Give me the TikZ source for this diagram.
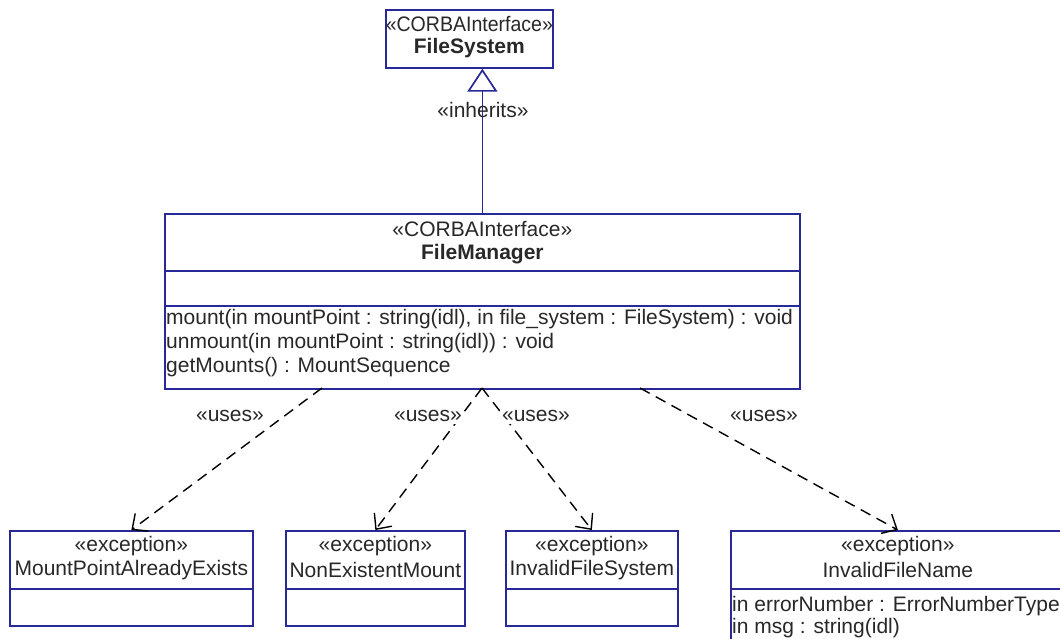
\documentclass[tikz,border=0pt]{standalone}
\usepackage{fontspec}
\setmainfont{Liberation Sans}
\usetikzlibrary{arrows.meta}
\definecolor{umlblue}{RGB}{40,40,150}
\definecolor{txt}{RGB}{40,40,40}
\begin{document}
\begin{tikzpicture}[x=1pt,y=-1pt,
  umlbox/.style={draw=umlblue, line width=1.7pt, fill=white, inner sep=0pt, anchor=north west},
  lbl/.style={font=\fontsize{21}{24}\selectfont, text=txt, inner sep=0pt},
  deplbl/.style={lbl, fill=white, inner sep=2pt},
  attr/.style={lbl, anchor=west},
  compline/.style={draw=umlblue, line width=1.7pt},
  inh/.style={draw=umlblue, line width=1.7pt, -{Triangle[open, length=23pt, width=30pt]}},
  dep/.style={draw=black, line width=1.4pt, dash pattern=on 11pt off 7pt,
    -{Straight Barb[length=12pt, width=22pt, line width=1.4pt]}}
]
\path[use as bounding box] (0,0) rectangle (1060,638);
\clip (0,0) rectangle (1060,638);
\fill[white] (0,0) rectangle (1060,638);

% interface FileSystem
\node[umlbox, minimum width=167pt, minimum height=58pt] (fs) at (385,9) {};
\node[lbl] (fsst) at (fs.center |- 0,24) {\scalebox{0.93}[1]{«CORBAInterface»}};
\node[lbl, font=\fontsize{21}{24}\selectfont\bfseries] (fsnm) at (fs.center |- 0,48) {FileSystem};

% interface FileManager
\node[umlbox, minimum width=635pt, minimum height=175pt] (fm) at (164,213) {};
\draw[compline] (164,271) -- (799,271);
\draw[compline] (164,306) -- (799,306);
\node[lbl] (fmst) at (fm.center |- 0,229) {«CORBAInterface»};
\node[lbl, font=\fontsize{21}{24}\selectfont\bfseries] (fmnm) at (fm.center |- 0,254) {FileManager};
\node[attr] (op1) at (166,319) {mount(in mountPoint : string(idl), in file\_system : FileSystem) : void};
\node[attr] (op2) at (166,343) {unmount(in mountPoint : string(idl)) : void};
\node[attr] (op3) at (166,367) {getMounts() : MountSequence};

% generalisation
\draw[inh] (fm.north) -- (fm.north |- fs.south);
\node[lbl] (inhl) at (483,110) {«inherits»};

% exceptions
\node[umlbox, minimum width=243pt, minimum height=95pt] (e1) at (9,530) {};
\node[umlbox, minimum width=179pt, minimum height=95pt] (e2) at (285,530) {};
\node[umlbox, minimum width=172pt, minimum height=95pt] (e3) at (505,530) {};
\node[umlbox, minimum width=334pt, minimum height=150pt] (e4) at (730,530) {};
\draw[compline] (e1.west |- 0,589) -- (e1.east |- 0,589);
\draw[compline] (e2.west |- 0,589) -- (e2.east |- 0,589);
\draw[compline] (e3.west |- 0,589) -- (e3.east |- 0,589);
\draw[compline] (e4.west |- 0,589) -- (e4.east |- 0,589);

\node[lbl] (e1st) at (e1.center |- 0,546) {«exception»};
\node[lbl] (e1nm) at (e1.center |- 0,570) {MountPointAlreadyExists};
\node[lbl] (e2st) at (e2.center |- 0,546) {«exception»};
\node[lbl] (e2nm) at (e2.center |- 0,570) {NonExistentMount};
\node[lbl] (e3st) at (e3.center |- 0,546) {«exception»};
\node[lbl] (e3nm) at (e3.center |- 0,570) {InvalidFileSystem};
\node[lbl] (e4st) at (e4.center |- 0,546) {«exception»};
\node[lbl] (e4nm) at (e4.center |- 0,570) {InvalidFileName};
\node[attr] (a1) at (732,606) {in errorNumber : ErrorNumberType};
\node[attr] (a2) at (732,628) {in msg : string(idl)};

% usage dependencies
\coordinate (u1) at (322,388);
\coordinate (u2) at (482,388);
\coordinate (u4) at (640,388);
\draw[dep] (u1) -- (e1.north);
\draw[dep] (u2) -- (e2.north);
\draw[dep] (u2) -- (e3.north);
\draw[dep] (u4) -- (e4.north);
\node[deplbl] (l1) at (230,416) {«uses»};
\node[deplbl] (l2) at (428,416) {«uses»};
\node[deplbl] (l3) at (536,416) {«uses»};
\node[deplbl] (l4) at (764,416) {«uses»};
\end{tikzpicture}
\end{document}
